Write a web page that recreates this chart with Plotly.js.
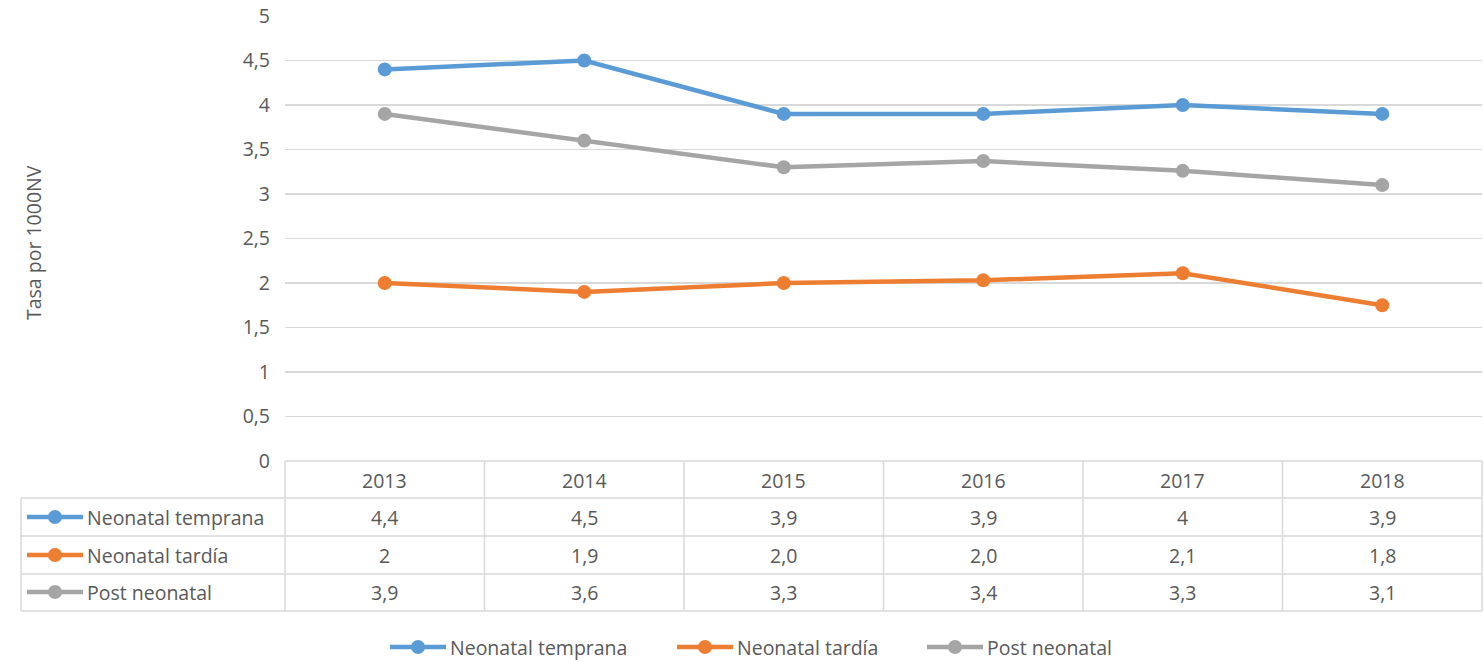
<!DOCTYPE html>
<html>
<head>
<meta charset="utf-8">
<script src="https://cdn.plot.ly/plotly-3.0.1.min.js"></script>
<style>html,body{margin:0;padding:0;background:#fff;}#chart{width:1483px;height:662px;}</style>
</head>
<body>
<div id="chart"></div>
<script>
// ---- data ----
const years = ['2013', '2014', '2015', '2016', '2017', '2018'];
const seriesNames = ['Neonatal temprana', 'Neonatal tardía', 'Post neonatal'];
const neonatalTemprana = [4.4, 4.5, 3.9, 3.9, 4.0, 3.9];
const neonatalTardia = [2.0, 1.9, 2.0, 2.03, 2.11, 1.75];
const postNeonatal = [3.9, 3.6, 3.3, 3.37, 3.26, 3.1];
const tableTemprana = ['4,4', '4,5', '3,9', '3,9', '4', '3,9'];
const tableTardia = ['2', '1,9', '2,0', '2,0', '2,1', '1,8'];
const tablePost = ['3,9', '3,6', '3,3', '3,4', '3,3', '3,1'];
const yTitle = 'Tasa por 1000NV';

// ---- style ----
const colors = ['#5B9BD5', '#ED7D31', '#A5A5A5'];
const FONT = '"Open Sans", sans-serif';
const FS = 19.5;
const TXT = '#595959';
const GRID = '#D9D9D9';

const W = 1483, H = 662, ML = 285, MR = 1, MT = 16, MB = 201;
const PW = W - ML - MR, PH = H - MT - MB;
const px = x => (x - ML) / PW;
const py = y => (H - MB - y) / PH;

const allSeries = [neonatalTemprana, neonatalTardia, postNeonatal];
const allTable = [tableTemprana, tableTardia, tablePost];

const traces = allSeries.map((vals, i) => ({
  type: 'scatter', mode: 'lines+markers', name: seriesNames[i],
  x: years, y: vals,
  line: {color: colors[i], width: 4.5},
  marker: {color: colors[i], size: 14},
  hoverinfo: 'x+y', showlegend: false
}));

const shapes = [];
const annotations = [];
const font = {family: FONT, size: FS, color: TXT};
const lineStyle = {color: GRID, width: 1.5};
// table horizontal lines
const rowY = [461, 498, 536, 574, 611];
rowY.forEach((y, k) => {
  shapes.push({type: 'line', xref: 'paper', yref: 'paper', x0: px(k === 0 ? 285 : 21), x1: 1, y0: py(y), y1: py(y), line: lineStyle});
});
// vertical lines
shapes.push({type: 'line', xref: 'paper', yref: 'paper', x0: px(21), x1: px(21), y0: py(498), y1: py(611), line: lineStyle});
for (let k = 0; k <= years.length; k++) {
  const xx = k / years.length;
  shapes.push({type: 'line', xref: 'paper', yref: 'paper', x0: xx, x1: xx, y0: py(461), y1: py(611), line: lineStyle});
}
const colX = j => (j + 0.5) / years.length;
// header years
years.forEach((yr, j) => {
  annotations.push({xref: 'paper', yref: 'paper', x: colX(j), y: py(480), text: yr, showarrow: false,
    xanchor: 'center', yanchor: 'middle', font: font});
});
function legendKey(cx, cy, i) {
  shapes.push({type: 'line', xref: 'paper', yref: 'paper', x0: px(cx - 28), x1: px(cx + 28), y0: py(cy), y1: py(cy),
    line: {color: colors[i], width: 4.5}});
  shapes.push({type: 'circle', xref: 'paper', yref: 'paper', xsizemode: 'pixel', ysizemode: 'pixel',
    xanchor: px(cx), yanchor: py(cy), x0: -7, x1: 7, y0: -7, y1: 7,
    fillcolor: colors[i], line: {color: colors[i], width: 0}});
}
// rows
const rowCenters = [517, 555, 592];
rowCenters.forEach((cy, i) => {
  legendKey(55, cy, i);
  annotations.push({xref: 'paper', yref: 'paper', x: px(85), y: py(cy), text: seriesNames[i], showarrow: false,
    xanchor: 'left', yanchor: 'middle', font: font});
  allTable[i].forEach((t, j) => {
    annotations.push({xref: 'paper', yref: 'paper', x: colX(j), y: py(cy), text: t, showarrow: false,
      xanchor: 'center', yanchor: 'middle', font: font});
  });
});
// bottom legend
const legendCx = [418, 705, 955];
legendCx.forEach((cx, i) => {
  legendKey(cx, 647, i);
  annotations.push({xref: 'paper', yref: 'paper', x: px(cx + 30), y: py(647), text: seriesNames[i], showarrow: false,
    xanchor: 'left', yanchor: 'middle', font: font});
});
// y axis title
annotations.push({xref: 'paper', yref: 'paper', x: px(33), y: py(243), text: yTitle, textangle: -90,
  showarrow: false, xanchor: 'center', yanchor: 'middle', font: font});

const layout = {
  width: W, height: H,
  margin: {l: ML, r: MR, t: MT, b: MB, pad: 0},
  paper_bgcolor: '#fff', plot_bgcolor: '#fff',
  separators: ',.',
  font: font,
  showlegend: false,
  xaxis: {type: 'category', range: [-0.5, 5.5], showticklabels: false, showgrid: false,
    zeroline: false, showline: false, ticks: '', fixedrange: true},
  yaxis: {range: [0, 5], dtick: 0.5, tick0: 0, showgrid: true, gridcolor: GRID, gridwidth: 1.5,
    zeroline: false, showline: false, ticks: '', ticklabelstandoff: 14,
    tickfont: font, fixedrange: true},
  shapes: shapes,
  annotations: annotations
};

Plotly.newPlot('chart', traces, layout, {displayModeBar: false, staticPlot: true});
</script>
</body>
</html>
